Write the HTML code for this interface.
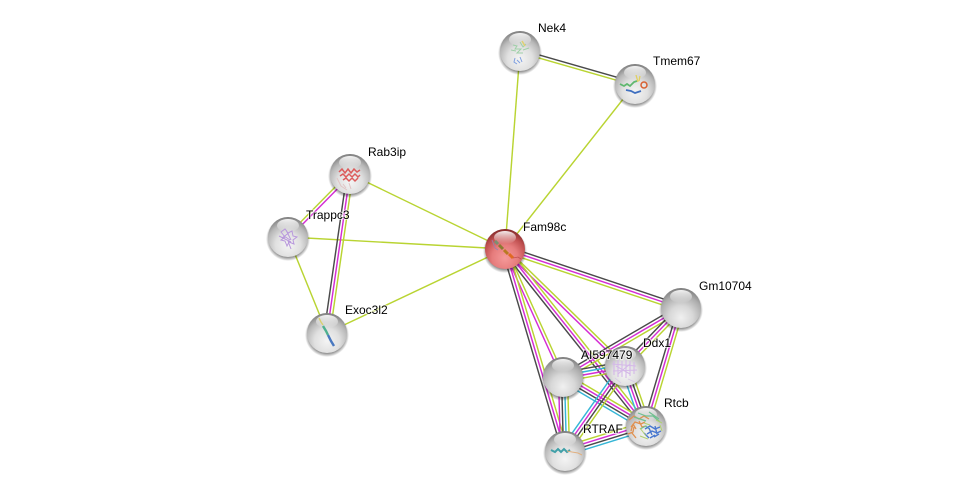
<!DOCTYPE html>
<html><head><meta charset="utf-8">
<style>
html,body{margin:0;padding:0;background:#fff;width:976px;height:496px;overflow:hidden}
svg{display:block}
text{font-family:"Liberation Sans",sans-serif;font-size:12px;fill:#000;paint-order:stroke;stroke:#fff;stroke-opacity:.6;stroke-width:2px}
</style></head>
<body>
<svg id="s" width="976" height="496" viewBox="0 0 976 496" xmlns="http://www.w3.org/2000/svg">
<defs>
<radialGradient id="g" cx="50%" cy="70%" r="70%">
<stop offset="0" stop-color="#f4f4f4"/><stop offset=".45" stop-color="#e0e0e0"/><stop offset=".75" stop-color="#b8b8b8"/><stop offset="1" stop-color="#7c7c7c"/>
</radialGradient>
<radialGradient id="e" cx="50%" cy="74%" r="74%">
<stop offset="0" stop-color="#f0f0f0"/><stop offset=".4" stop-color="#d8d8d8"/><stop offset=".75" stop-color="#adadad"/><stop offset="1" stop-color="#7c7c7c"/>
</radialGradient>
<radialGradient id="r" cx="50%" cy="72%" r="72%">
<stop offset="0" stop-color="#f59a9a"/><stop offset=".45" stop-color="#e67c7c"/><stop offset=".75" stop-color="#c05050"/><stop offset="1" stop-color="#822828"/>
</radialGradient>
<linearGradient id="h" x1="0" y1="0" x2="0" y2="1">
<stop offset="0" stop-color="#fff" stop-opacity=".9"/><stop offset="1" stop-color="#fff" stop-opacity="0"/>
</linearGradient>
<radialGradient id="sh" cx="50%" cy="50%" r="50%">
<stop offset=".8" stop-color="#000" stop-opacity=".5"/><stop offset="1" stop-color="#000" stop-opacity="0"/>
</radialGradient>
<filter id="b" x="-10%" y="-10%" width="120%" height="120%"><feGaussianBlur stdDeviation=".35"/></filter>
</defs>
<g id="edges" fill="none" stroke-width="1.45"></g>
<g id="nodes"></g>

<g fill="none" stroke-width="1" filter="url(#b)">
<path d="M513 45l4 1-2 3 6 0-4 4 6 0M520 42l3 5 3-3M523 50l6-2M511 50l5 1" stroke="#9fd0a8"/>
<path d="M515 58l-1 4 3 2M520 57l2 5M517 60l3 3" stroke="#7f9fe0"/>
<path d="M522 41l3 5" stroke="#e0d070" stroke-width="1.5"/>
<path d="M620 84l4 2 3-2 3 2 4-4 3-1" stroke="#60b870" stroke-width="1.8"/>
<path d="M626 90l5 1 4 2 6-2" stroke="#4070c0" stroke-width="1.8"/>
<circle cx="644" cy="85" r="3" stroke="#d86030" stroke-width="1.5"/>
<path d="M636 75l2 7M640 76l-1 5" stroke="#e0d060" stroke-width="1.3"/>
<path d="M339 172l3-3 3 4 3-4 3 4 3-4 3 3 3-2M340 176l3-2 3 3 3-3 3 3 3-3 3 3 2-2M343 180l3-2 3 3 3-3 3 3 3-3" stroke="#dc5c5c" stroke-width="1.5"/>
<path d="M337 178l4 8 6 4M343 184l3 4M349 183l2 6" stroke="#e0c4c4"/>
<path d="M281 232l4-3 3 4 4-2 1 5 4 1-4 3 1 4-5-2-2 4-2-5-4-1 4-3zM288 241l3 8M284 236l6 4M282 238l8-6M286 230l5 10M279 236l12 6" stroke="#b898dc"/>
<path d="M319 318l2 4 2 3" stroke="#d8d070" stroke-width="1.4"/>
<path d="M323 326l3 5 2 4" stroke="#50b090" stroke-width="2.4"/>
<path d="M328 335l3 6 3 5" stroke="#4878c0" stroke-width="2.4"/>
<path d="M492 240l3 8 3 2" stroke="#9a80b0" stroke-width=".8"/>
<path d="M495 241l3 3" stroke="#7a9070" stroke-width="3"/>
<path d="M499 245l4 4" stroke="#8c7a30" stroke-width="3"/>
<path d="M504 250l4 4" stroke="#b87a20" stroke-width="3"/>
<path d="M509 254l4 4" stroke="#e06a20" stroke-width="3"/>
<path d="M513 258l5-1 3 2" stroke="#c05050" stroke-width=".8"/>
<path d="M614 361v14M618 360v17M622 361v16M626 360v18M630 361v15M634 362v12M612 364l24 2M613 371l24-1M616 366l14 8M630 364l-12 10" stroke="#d4b8e8" stroke-width="1.1"/>
<path d="M615 378l6 5M628 379l7 3" stroke="#d8c8e8" stroke-width=".8"/>
<path d="M629 420l5-4 5 3 5-3 5 3M631 427l4-5 6 2 4-2M628 434l5-2 1-5M633 424l3 5M631 431l2-7M636 438l-4-5M639 421l3 6 4-1" stroke="#e09050" stroke-width="1.3"/>
<path d="M638 413l8 3 7 0 7 6M634 417l12 4M649 412l10 7M640 429l6-3 3 3" stroke="#70c090" stroke-width="1.2"/>
<path d="M645 429l5-3 5 3 5-2M647 434l5-3 5 2 4-2M650 438l5-3M649 428l3 7M655 426l2 8M644 433l5 5M654 437l5-3" stroke="#4878d0" stroke-width="1.4"/>
<path d="M640 436l8 3M656 420l6 3M644 423l6 2M640 428l6 8M660 425l2 6" stroke="#b0d070" stroke-width="1"/>
<path d="M551 450l4 2 3-3 3 3 3-3 3 3 3-2" stroke="#3fa0a8" stroke-width="2"/>
<path d="M567 451l5 1 6 1 4 2" stroke="#e0b080" stroke-width="1"/>
</g>

<text x="538" y="32">Nek4</text>
<text x="653" y="65">Tmem67</text>
<text x="368" y="156">Rab3ip</text>
<text x="306" y="219">Trappc3</text>
<text x="523" y="231">Fam98c</text>
<text x="345" y="314">Exoc3l2</text>
<text x="699" y="290">Gm10704</text>
<text x="643" y="347">Ddx1</text>
<text x="581" y="359">AI597479</text>
<text x="664" y="407">Rtcb</text>
<text x="583" y="433">RTRAF</text>
</svg>
<script>
var N={nek:[520,51],tme:[635,84],rab:[350,174],tra:[288,237],exo:[327,333],fam:[505,249],gm:[681,308],ai:[563,377],ddx:[625,366],rtc:[646,426],rtr:[565,451]};
var C={k:'#4a4a4a',m:'#d42cd4',l:'#b9d432',c:'#36b6d6'};
var E=[
['nek','tme','kl'],['nek','fam','l'],['tme','fam','l'],
['rab','fam','l'],['tra','fam','l'],['exo','fam','l'],
['rab','tra','ml'],['rab','exo','lmk'],['tra','exo','l'],
['fam','gm','kml'],
['fam','ddx','lm'],['fam','rtc','lmk'],['fam','ai','lm'],['fam','rtr','lmk'],
['gm','ai','lmk'],['gm','ddx','lmk'],['gm','rtc','lmk'],
['ai','ddx','kcml'],['ai','rtc','lmkc'],['ai','rtr','lckm'],
['ddx','rtc','lkmc'],['ddx','rtr','lkmc'],
['rtc','rtr','ckml']
];
var ns='http://www.w3.org/2000/svg',eg=document.getElementById('edges'),ng=document.getElementById('nodes');
E.forEach(function(e){
 var a=N[e[0]],b=N[e[1]],dx=b[0]-a[0],dy=b[1]-a[1],L=Math.hypot(dx,dy),px=-dy/L,py=dx/L,n=e[2].length;
 e[2].split('').forEach(function(c,i){
  var o=(i-(n-1)/2)*3,l=document.createElementNS(ns,'line');
  l.setAttribute('x1',a[0]+px*o);l.setAttribute('y1',a[1]+py*o);
  l.setAttribute('x2',b[0]+px*o);l.setAttribute('y2',b[1]+py*o);
  l.setAttribute('stroke',C[c]);eg.appendChild(l);
 });
});
function el(t,o,p){var x=document.createElementNS(ns,t);for(var k in o)x.setAttribute(k,o[k]);p.appendChild(x);return x}
Object.keys(N).forEach(function(k){
 var p=N[k],f=k=='fam'?'url(#r)':(k=='gm'||k=='ai')?'url(#e)':'url(#g)';
 el('circle',{cx:p[0],cy:p[1]+2,r:22,fill:'url(#sh)'},ng);
 el('circle',{cx:p[0],cy:p[1],r:20,fill:f},ng);
 el('ellipse',{cx:p[0],cy:p[1]-11.5,rx:11,ry:6.5,fill:'url(#h)'},ng);
});
</script>
</body></html>
